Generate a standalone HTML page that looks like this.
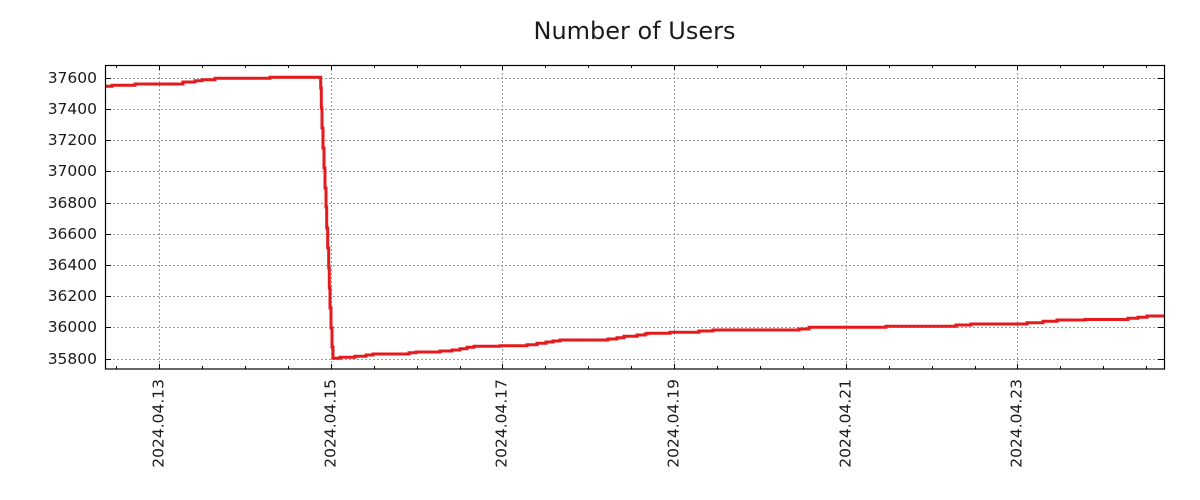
<!DOCTYPE html>
<html>
<head>
<meta charset="utf-8">
<style>
  html, body { margin: 0; padding: 0; background: #fff; }
  svg { display: block; }
  text { font-family: "DejaVu Sans", "Liberation Sans", sans-serif; fill: #1a1a1a; }
</style>
</head>
<body>
<svg width="1200" height="500" viewBox="0 0 1200 500" xmlns="http://www.w3.org/2000/svg">
  <rect width="1200" height="500" fill="#fff"/>
  <defs>
    <clipPath id="plot"><rect x="105" y="65" width="1060" height="304"/></clipPath>
  </defs>

  <!-- title -->
  <text x="634.5" y="39" font-size="24" text-anchor="middle">Number of Users</text>

  <!-- grid -->
  <g stroke="#999" stroke-width="1" stroke-dasharray="2,2" fill="none">
    <line x1="105" y1="78.5" x2="1164" y2="78.5"/>
    <line x1="105" y1="109.5" x2="1164" y2="109.5"/>
    <line x1="105" y1="140.5" x2="1164" y2="140.5"/>
    <line x1="105" y1="171.5" x2="1164" y2="171.5"/>
    <line x1="105" y1="203.5" x2="1164" y2="203.5"/>
    <line x1="105" y1="234.5" x2="1164" y2="234.5"/>
    <line x1="105" y1="265.5" x2="1164" y2="265.5"/>
    <line x1="105" y1="296.5" x2="1164" y2="296.5"/>
    <line x1="105" y1="327.5" x2="1164" y2="327.5"/>
    <line x1="105" y1="359.5" x2="1164" y2="359.5"/>
    <line x1="159.5" y1="65" x2="159.5" y2="369"/>
    <line x1="331.5" y1="65" x2="331.5" y2="369"/>
    <line x1="502.5" y1="65" x2="502.5" y2="369"/>
    <line x1="674.5" y1="65" x2="674.5" y2="369"/>
    <line x1="846.5" y1="65" x2="846.5" y2="369"/>
    <line x1="1017.5" y1="65" x2="1017.5" y2="369"/>
  </g>

  <!-- data line -->
  <path clip-path="url(#plot)" fill="none" stroke="#e41a1c" stroke-width="3" stroke-linejoin="miter"
    d="M104,86.3 H112 V85.3 H135 V84 H183 V82 H195 V80.7 H202 V79.7 H215 V78.3 H270 V77.3 H320.7 V88 H321.3 V108 H322 V128 H323 V148 H324 V168 H325 V188 H326 V207 H326.7 V228 H327.7 V248 H328.7 V268 H329.3 V288 H330 V308 H331 V328 H332 V347 H333 V358.3 H340 V357.3 H355 V356.3 H366 V355 H373 V354 H409 V352.7 H416 V352 H440 V351 H452 V350 H460 V348.7 H467 V347.3 H474 V346.3 H500 V345.7 H527 V344.7 H537 V343.3 H546 V342 H553 V341 H560 V340 H608 V339 H617 V337.7 H624 V336.3 H637 V335 H645 V334 H647 V333.3 H670 V332.3 H699 V331 H713 V330 H799 V329 H809 V327.3 H886 V326.3 H956 V325 H971 V324 H1027 V322.7 H1043 V321.3 H1057 V320 H1085 V319.5 H1128 V318.3 H1138 V317.3 H1147 V316 H1166"/>

  <!-- ticks -->
  <g stroke="#000" stroke-width="1">
    <path d="M105,78.5 h6 M105,109.5 h6 M105,140.5 h6 M105,171.5 h6 M105,203.5 h6 M105,234.5 h6 M105,265.5 h6 M105,296.5 h6 M105,327.5 h6 M105,359.5 h6
             M1164,78.5 h-6 M1164,109.5 h-6 M1164,140.5 h-6 M1164,171.5 h-6 M1164,203.5 h-6 M1164,234.5 h-6 M1164,265.5 h-6 M1164,296.5 h-6 M1164,327.5 h-6 M1164,359.5 h-6"/>
    <path d="M159.5,369 v-5 M331.5,369 v-5 M502.5,369 v-5 M674.5,369 v-5 M846.5,369 v-5 M1017.5,369 v-5
             M159.5,65 v5 M331.5,65 v5 M502.5,65 v5 M674.5,65 v5 M846.5,65 v5 M1017.5,65 v5"/>
    <path d="M116.5,369 v-3 M202.5,369 v-3 M245.5,369 v-3 M288.5,369 v-3 M374.5,369 v-3 M417.5,369 v-3 M460.5,369 v-3 M545.5,369 v-3 M588.5,369 v-3 M631.5,369 v-3 M717.5,369 v-3 M760.5,369 v-3 M803.5,369 v-3 M889.5,369 v-3 M932.5,369 v-3 M975.5,369 v-3 M1060.5,369 v-3 M1103.5,369 v-3 M1146.5,369 v-3
             M116.5,65 v3 M202.5,65 v3 M245.5,65 v3 M288.5,65 v3 M374.5,65 v3 M417.5,65 v3 M460.5,65 v3 M545.5,65 v3 M588.5,65 v3 M631.5,65 v3 M717.5,65 v3 M760.5,65 v3 M803.5,65 v3 M889.5,65 v3 M932.5,65 v3 M975.5,65 v3 M1060.5,65 v3 M1103.5,65 v3 M1146.5,65 v3"/>
  </g>

  <!-- frame -->
  <rect x="105.5" y="65.5" width="1059" height="303.5" fill="none" stroke="#000" stroke-width="1.2"/>

  <!-- y labels -->
  <g font-size="15.5" text-anchor="end">
    <text x="97" y="83">37600</text>
    <text x="97" y="114">37400</text>
    <text x="97" y="145">37200</text>
    <text x="97" y="176">37000</text>
    <text x="97" y="208">36800</text>
    <text x="97" y="239">36600</text>
    <text x="97" y="270">36400</text>
    <text x="97" y="301">36200</text>
    <text x="97" y="332">36000</text>
    <text x="97" y="364">35800</text>
  </g>

  <!-- x labels -->
  <g font-size="15.5" text-anchor="end">
    <text transform="translate(163.5,379) rotate(-90)">2024.04.13</text>
    <text transform="translate(335.5,379) rotate(-90)">2024.04.15</text>
    <text transform="translate(506.5,379) rotate(-90)">2024.04.17</text>
    <text transform="translate(678.5,379) rotate(-90)">2024.04.19</text>
    <text transform="translate(850.5,379) rotate(-90)">2024.04.21</text>
    <text transform="translate(1021.5,379) rotate(-90)">2024.04.23</text>
  </g>
</svg>
</body>
</html>
